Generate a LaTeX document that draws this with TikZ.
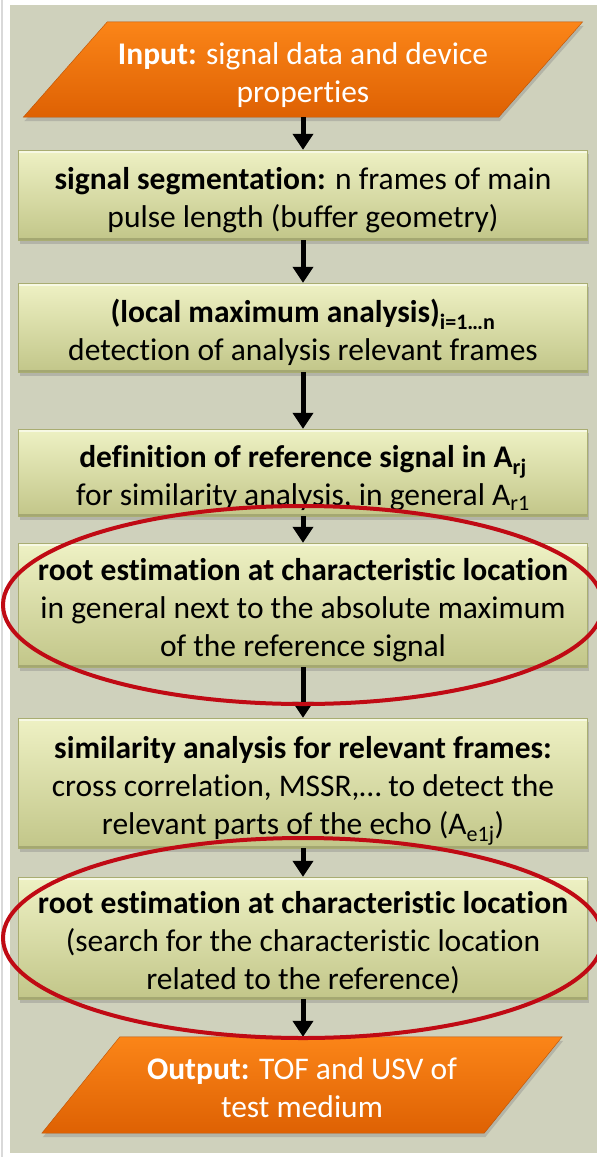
\documentclass[tikz,border=0pt]{standalone}
\usepackage{fontspec}
\setmainfont{Carlito}[Ligatures=NoCommon]
\usetikzlibrary{arrows.meta,shadows}
\definecolor{panel}{HTML}{CFD1BC}
\definecolor{boxtop}{HTML}{EEF1C4}
\definecolor{boxbot}{HTML}{C2C689}
\definecolor{boxline}{HTML}{A9AD72}
\definecolor{orangetop}{HTML}{FB8518}
\definecolor{orangebot}{HTML}{DE6103}
\definecolor{ringred}{HTML}{C00A14}
\pgfdeclarelayer{background}
\pgfsetlayers{background,main}
\newcommand\boxtext[1]{\raisebox{-6pt}[\height][\depth]{\begin{tabular}{@{}c@{}}#1\end{tabular}}}
\begin{document}
\begin{tikzpicture}[x=1pt,y=-1pt,
		stepbox/.style={rectangle, draw=boxline, top color=boxtop, bottom color=boxbot, minimum width=569pt, inner sep=0pt,
			drop shadow={shadow xshift=1pt, shadow yshift=-4pt, opacity=.35},
			path picture={\draw[white!55!boxtop, line width=6pt] (path picture bounding box.north west) -- (path picture bounding box.north east);
				\draw[boxline!80!black, line width=4pt, opacity=.5] (path picture bounding box.south west) -- (path picture bounding box.south east);}},
		io/.style={rectangle, inner sep=0pt, text=white},
		iofill/.style={draw=orangebot!85!black, top color=orangetop, bottom color=orangebot, drop shadow={shadow xshift=1pt, shadow yshift=-4pt, opacity=.35}},
		flow/.style={line width=5pt, -{Triangle[width=20pt,length=16pt]}},
		ring/.style={draw=ringred, line width=4pt},
		font=\fontsize{31.5}{38}\selectfont]
		\useasboundingbox (0,0) rectangle (597,1157);

		\node[io, minimum width=475pt, minimum height=95pt] (input) at (303,69.5) {\boxtext{\textbf{Input:} signal data and device\\properties}};
		\node[stepbox, minimum height=90pt] (seg) at (303,195) {\boxtext{\textbf{signal segmentation:} n frames of main\\pulse length (buffer geometry)}};
		\node[stepbox, minimum height=89pt] (localmax) at (303,327.5) {\boxtext{\textbf{(local maximum analysis)\textsubscript{i=1…n}}\\detection of analysis relevant frames}};
		\node[stepbox, minimum height=87pt] (refsig) at (303,472.5) {\boxtext{\textbf{definition of reference signal in A\textsubscript{rj}}\\for similarity analysis, in general A\textsubscript{r1}}};
		\node[stepbox, minimum height=124pt] (rootref) at (303,605) {\boxtext{\textbf{root estimation at characteristic location}\\in general next to the absolute maximum\\of the reference signal}};
		\node[stepbox, minimum height=130pt] (simil) at (303,783) {\boxtext{\textbf{similarity analysis for relevant frames:}\\cross correlation, MSSR,… to detect the\\relevant parts of the echo (A\textsubscript{e1j})}};
		\node[stepbox, minimum height=122pt] (rootecho) at (303,938) {\boxtext{\textbf{root estimation at characteristic location}\\(search for the characteristic location\\related to the reference)}};
		\node[io, minimum width=442pt, minimum height=96pt] (output) at (302,1085) {\boxtext{\textbf{Output:} TOF and USV of\\test medium}};

		\begin{pgfonlayer}{background}
			\fill[white] (0,0) rectangle (597,1157);
			\fill[panel] (10,5) rectangle (597,1153);
			\draw[black!15, line width=2pt] (2,0) -- (2,1157);
			\path[iofill] ([xshift=42pt]input.north west) -- ([xshift=42pt]input.north east) -- ([xshift=-42pt]input.south east) -- ([xshift=-42pt]input.south west) -- cycle;
			\path[iofill] ([xshift=39pt]output.north west) -- ([xshift=39pt]output.north east) -- ([xshift=-39pt]output.south east) -- ([xshift=-39pt]output.south west) -- cycle;
		\end{pgfonlayer}

		\draw[flow] (input) -- (seg);
		\draw[flow] (seg) -- (localmax);
		\draw[flow] (localmax) -- (refsig);
		\draw[flow] (refsig) -- (rootref);
		\draw[flow] (rootref) -- (simil);
		\draw[flow] (simil) -- (rootecho);
		\draw[flow] (rootecho) -- (output.north -| rootecho.south);

		\draw[ring] (rootref.center) ellipse [x radius=300, y radius=99];
		\draw[ring] (rootecho.center) ellipse [x radius=300, y radius=100];
	\end{tikzpicture}
\end{document}
